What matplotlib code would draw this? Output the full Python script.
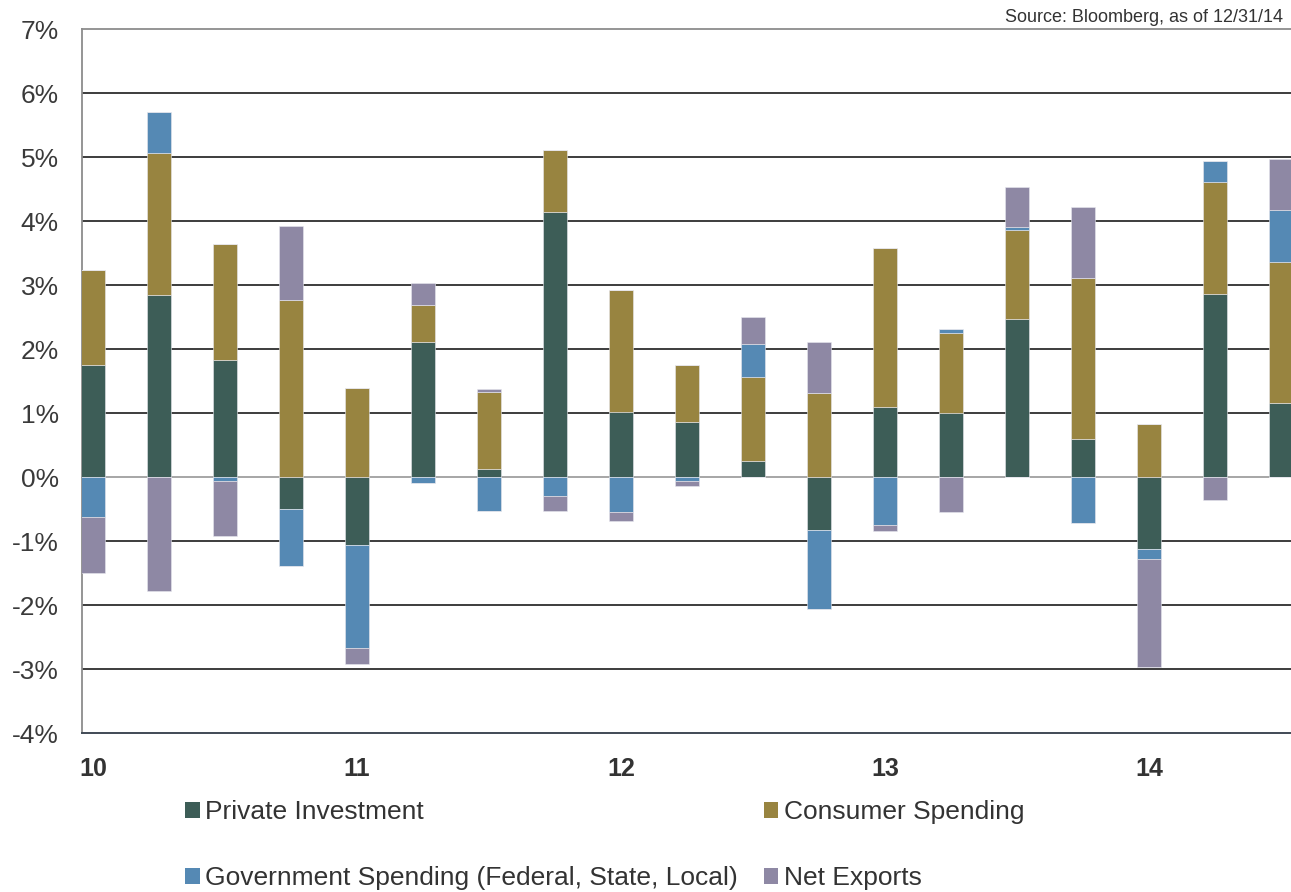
import numpy as np
import matplotlib
matplotlib.use("Agg")
import matplotlib.pyplot as plt
from matplotlib.patches import Patch

plt.rcParams['font.family'] = ['Liberation Sans', 'DejaVu Sans']

# Contribuciones trimestrales al PIB (puntos porcentuales), 2010T1 - 2014T3
quarters = ['10Q1', '10Q2', '10Q3', '10Q4', '11Q1', '11Q2', '11Q3', '11Q4',
            '12Q1', '12Q2', '12Q3', '12Q4', '13Q1', '13Q2', '13Q3', '13Q4',
            '14Q1', '14Q2', '14Q3']
private_inv = [1.75, 2.85, 1.84, -0.50, -1.06, 2.12, 0.13, 4.15, 1.02, 0.86,
               0.25, -0.82, 1.10, 1.01, 2.48, 0.60, -1.12, 2.86, 1.16]
consumer = [1.49, 2.22, 1.80, 2.77, 1.39, 0.57, 1.21, 0.96, 1.90, 0.89,
            1.32, 1.31, 2.48, 1.24, 1.39, 2.52, 0.84, 1.75, 2.21]
government = [-0.62, 0.64, -0.06, -0.89, -1.60, -0.09, -0.53, -0.30, -0.55, -0.06,
              0.51, -1.23, -0.75, 0.06, 0.04, -0.72, -0.15, 0.33, 0.81]
net_exports = [-0.87, -1.78, -0.86, 1.15, -0.26, 0.35, 0.04, -0.23, -0.13, -0.07,
               0.42, 0.81, -0.09, -0.55, 0.62, 1.10, -1.69, -0.35, 0.80]

year_ticks = [0, 4, 8, 12, 16]
year_labels = ['10', '11', '12', '13', '14']

series = [
    ('Private Investment', private_inv, '#3D5D57'),
    ('Consumer Spending', consumer, '#988440'),
    ('Government Spending (Federal, State, Local)', government, '#5589B4'),
    ('Net Exports', net_exports, '#8E88A4'),
]

fig = plt.figure(figsize=(12.91, 8.92), dpi=100)
ax = fig.add_axes([0.0639, 0.1779, 0.9361, 0.7893])

x = np.arange(len(quarters))
pos_base = np.zeros(len(quarters))
neg_base = np.zeros(len(quarters))
for name, vals, color in series:
    vals = np.array(vals)
    pos = np.where(vals > 0, vals, 0)
    neg = np.where(vals < 0, vals, 0)
    ax.bar(x, pos, width=0.36, bottom=pos_base, color=color,
           edgecolor='#E8E8EE', linewidth=0.4, zorder=3)
    ax.bar(x, neg, width=0.36, bottom=neg_base, color=color,
           edgecolor='#E8E8EE', linewidth=0.4, zorder=3)
    pos_base += pos
    neg_base += neg

# Lineas de cuadricula
for v in range(-3, 7):
    if v == 0:
        ax.axhline(0, color='#A6A6A6', lw=1.4, zorder=2)
    else:
        ax.axhline(v, color='#3C3C3C', lw=1.4, zorder=1)

ax.set_xlim(-0.162, 18.15)
ax.set_ylim(-4, 7)
ax.set_yticks(range(-4, 8))
ax.set_yticklabels([f'{v}%' for v in range(-4, 8)])
ax.set_xticks(year_ticks)
ax.set_xticklabels(year_labels, fontweight='bold')

ax.tick_params(axis='y', length=0, pad=17, labelsize=19, labelcolor='#3A3A3A')
ax.tick_params(axis='x', length=0, pad=17, labelsize=18, labelcolor='#333333')

ax.spines['right'].set_visible(False)
ax.spines['left'].set_color('#8C8C8C')
ax.spines['left'].set_linewidth(1.3)
ax.spines['top'].set_color('#8C8C8C')
ax.spines['top'].set_linewidth(1.3)
ax.spines['bottom'].set_color('#404A55')
ax.spines['bottom'].set_linewidth(1.4)

# Leyenda en dos columnas
handles = [Patch(facecolor=c, label=n) for n, _, c in series]
order = [0, 2, 1, 3]
fig.legend([handles[i] for i in order], [series[i][0] for i in order],
           ncol=2, loc='upper left', bbox_to_anchor=(185 / 1291, 1 - 800 / 892),
           frameon=False, fontsize=19, handlelength=0.55, handleheight=0.55,
           handletextpad=0.2, columnspacing=1.0, labelspacing=1.6,
           borderpad=0, borderaxespad=0, labelcolor='#333333')

fig.text(1283 / 1291, 1 - 17 / 892, 'Source: Bloomberg, as of 12/31/14',
         ha='right', va='center', fontsize=13, color='#333333')

fig.savefig('out.png', dpi=100)
